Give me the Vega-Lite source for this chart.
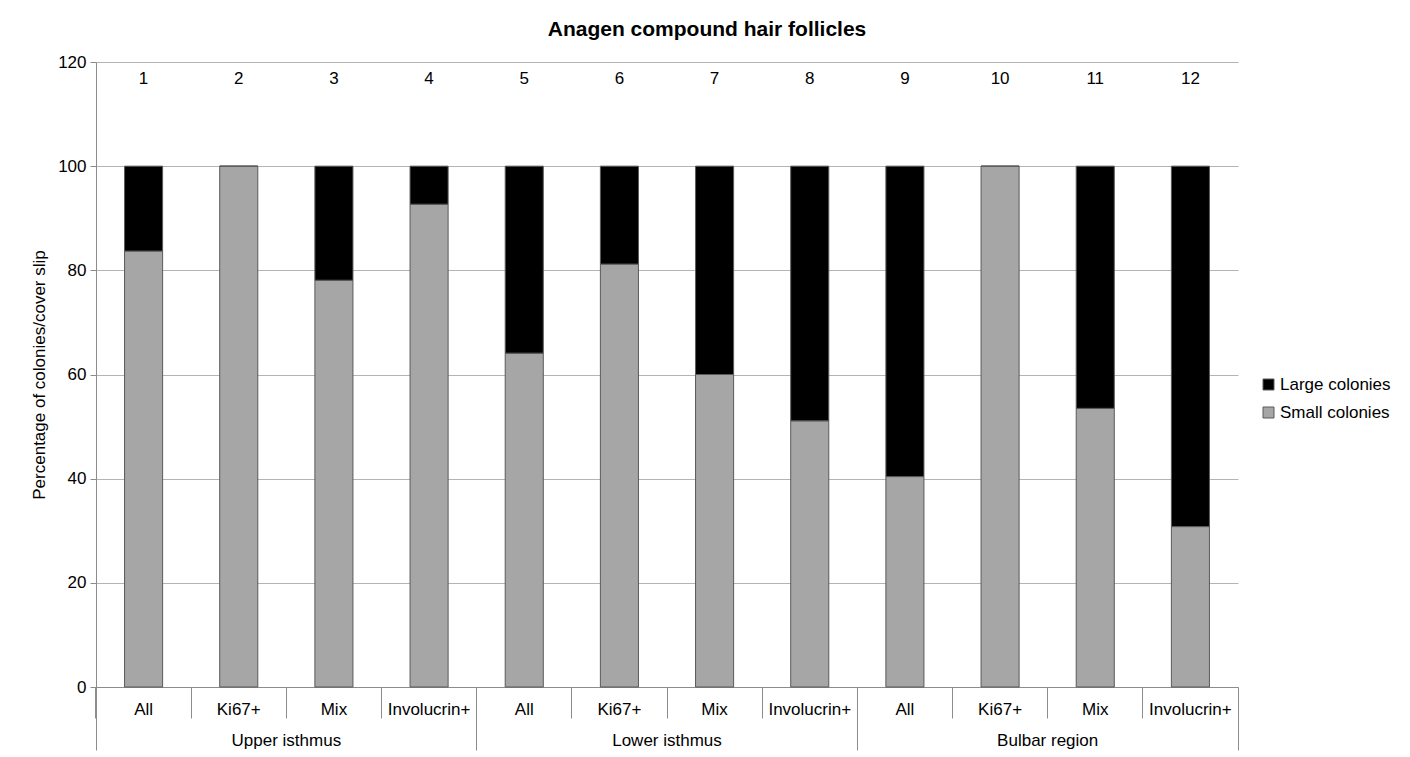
{
  "$schema": "https://vega.github.io/schema/vega-lite/v6.json",
  "width": 1142,
  "height": 625,
  "autosize": {"type": "none"},
  "padding": {"left": 96, "top": 62, "right": 172, "bottom": 70},
  "background": "white",
  "config": {
    "font": "Liberation Sans",
    "view": {"stroke": null},
    "axis": {"labelFont": "Liberation Sans", "labelColor": "#000000", "titleColor": "#000000", "domainColor": "#8c8c8c", "tickColor": "#8c8c8c", "gridColor": "#b4b4b4"}
  },
  "title": {
    "text": "Anagen compound hair follicles",
    "fontSize": 21,
    "fontWeight": "bold",
    "font": "Liberation Sans",
    "color": "#000000",
    "anchor": "middle",
    "frame": "group",
    "dx": 40,
    "offset": 13
  },
  "data": {
    "values": [
      {"id": 1, "group": "Upper isthmus", "series": "Small colonies", "value": 83.7},
      {"id": 1, "group": "Upper isthmus", "series": "Large colonies", "value": 16.3},
      {"id": 2, "group": "Upper isthmus", "series": "Small colonies", "value": 100},
      {"id": 2, "group": "Upper isthmus", "series": "Large colonies", "value": 0},
      {"id": 3, "group": "Upper isthmus", "series": "Small colonies", "value": 78.1},
      {"id": 3, "group": "Upper isthmus", "series": "Large colonies", "value": 21.9},
      {"id": 4, "group": "Upper isthmus", "series": "Small colonies", "value": 92.7},
      {"id": 4, "group": "Upper isthmus", "series": "Large colonies", "value": 7.3},
      {"id": 5, "group": "Lower isthmus", "series": "Small colonies", "value": 64.1},
      {"id": 5, "group": "Lower isthmus", "series": "Large colonies", "value": 35.9},
      {"id": 6, "group": "Lower isthmus", "series": "Small colonies", "value": 81.2},
      {"id": 6, "group": "Lower isthmus", "series": "Large colonies", "value": 18.8},
      {"id": 7, "group": "Lower isthmus", "series": "Small colonies", "value": 60.0},
      {"id": 7, "group": "Lower isthmus", "series": "Large colonies", "value": 40.0},
      {"id": 8, "group": "Lower isthmus", "series": "Small colonies", "value": 51.1},
      {"id": 8, "group": "Lower isthmus", "series": "Large colonies", "value": 48.9},
      {"id": 9, "group": "Bulbar region", "series": "Small colonies", "value": 40.4},
      {"id": 9, "group": "Bulbar region", "series": "Large colonies", "value": 59.6},
      {"id": 10, "group": "Bulbar region", "series": "Small colonies", "value": 100},
      {"id": 10, "group": "Bulbar region", "series": "Large colonies", "value": 0},
      {"id": 11, "group": "Bulbar region", "series": "Small colonies", "value": 53.5},
      {"id": 11, "group": "Bulbar region", "series": "Large colonies", "value": 46.5},
      {"id": 12, "group": "Bulbar region", "series": "Small colonies", "value": 30.8},
      {"id": 12, "group": "Bulbar region", "series": "Large colonies", "value": 69.2}
    ]
  },
  "layer": [
    {
      "mark": {"type": "bar", "stroke": "#5a5a5a", "strokeWidth": 1},
      "encoding": {
        "x": {
          "field": "id",
          "type": "ordinal",
          "scale": {"type": "band", "paddingInner": 0.6, "paddingOuter": 0.3},
          "axis": {
            "orient": "bottom",
            "title": null,
            "labelAngle": 0,
            "labelFontSize": 17,
            "labelExpr": "['All','Ki67+','Mix','Involucrin+'][(toNumber(datum.value)-1)%4]",
            "bandPosition": -0.75,
            "tickSize": 31,
            "labelPadding": -17,
            "domainColor": "#8c8c8c",
            "grid": false
          }
        },
        "y": {
          "field": "value",
          "type": "quantitative",
          "stack": "zero",
          "scale": {"domain": [0, 120]},
          "axis": {
            "title": "Percentage of colonies/cover slip",
            "titleFontSize": 17,
            "titleFontWeight": "normal",
            "titlePadding": 9,
            "labelFontSize": 17,
            "values": [0, 20, 40, 60, 80, 100, 120],
            "tickSize": 6,
            "labelPadding": 4,
            "grid": true
          }
        },
        "color": {
          "field": "series",
          "type": "nominal",
          "scale": {"domain": ["Large colonies", "Small colonies"], "range": ["#000000", "#a6a6a6"]},
          "legend": {
            "title": null,
            "orient": "none",
            "legendX": 1164,
            "legendY": 314,
            "symbolType": "square",
            "symbolSize": 121,
            "symbolStrokeColor": "#5a5a5a",
            "symbolStrokeWidth": 1,
            "labelFontSize": 17,
            "labelFont": "Liberation Sans",
            "labelColor": "#000000",
            "rowPadding": 10,
            "labelOffset": 3,
            "padding": 0
          }
        },
        "order": {"field": "series", "sort": "descending"}
      }
    },
    {
      "mark": {"type": "text", "fontSize": 17, "font": "Liberation Sans", "color": "#000000", "baseline": "middle"},
      "transform": [{"filter": "datum.series == 'Small colonies'"}],
      "encoding": {
        "x": {
          "field": "id",
          "type": "ordinal",
          "scale": {"type": "band", "paddingInner": 0.6, "paddingOuter": 0.3},
          "axis": {
            "orient": "bottom",
            "title": null,
            "values": [12],
            "bandPosition": 1.75,
            "tickSize": 63,
            "labels": false,
            "domain": false,
            "grid": false
          }
        },
        "y": {"datum": 116.8},
        "text": {"field": "id", "type": "nominal"}
      }
    },
    {
      "mark": {"type": "point", "opacity": 0},
      "encoding": {
        "x": {
          "field": "group",
          "type": "nominal",
          "sort": ["Upper isthmus", "Lower isthmus", "Bulbar region"],
          "scale": {"type": "band", "paddingInner": 0, "paddingOuter": 0},
          "axis": {
            "orient": "bottom",
            "title": null,
            "labelAngle": 0,
            "labelFontSize": 17,
            "bandPosition": 0,
            "tickSize": 63,
            "labelPadding": -18,
            "domain": false,
            "grid": false
          }
        }
      }
    }
  ],
  "resolve": {"scale": {"x": "independent"}, "axis": {"x": "independent"}}
}
